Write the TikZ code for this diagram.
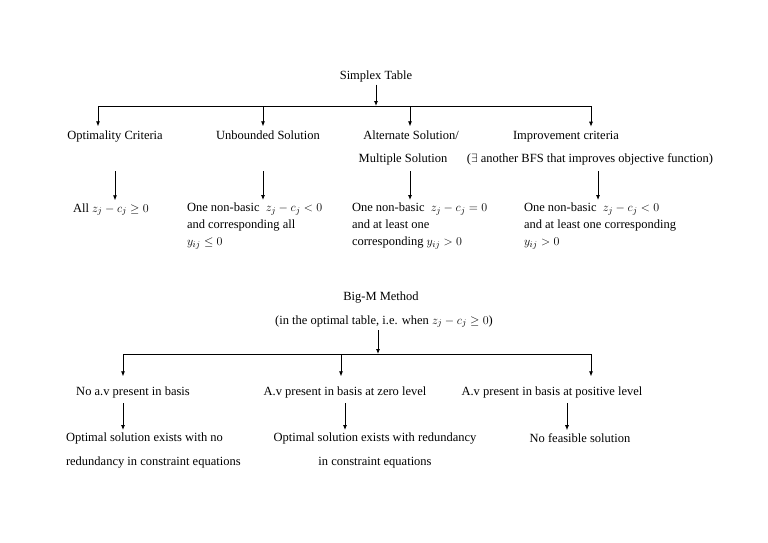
\documentclass[tikz,border=0pt]{standalone}
\usepackage{fontspec}
\setmainfont{Liberation Serif}
\usepackage{tikz}
\usetikzlibrary{arrows.meta,positioning}
\tikzset{
  lbl/.style={inner sep=0pt,outer sep=0pt,anchor=base,font=\fontsize{12.5}{17}\selectfont,text=black},
  cond/.style={lbl,anchor=north west,align=left},
  arrow/.style={-{Latex[length=5pt,width=4pt]},line width=.8pt,draw=black},
  bus/.style={line width=.8pt,draw=black}
}

\begin{document}
\begin{tikzpicture}[x=1pt,y=-1pt]
\useasboundingbox (0,0) rectangle (768,543);
% simplex table
\node[lbl] (st) at (376,79) {Simplex Table};
\coordinate (busL) at (98,106);
\coordinate (busR) at (591,106);
\node[lbl] (opt) at (115,139) {Optimality Criteria};
\node[lbl] (unb) at (268,139) {Unbounded Solution};
\node[lbl] (alt) at (411,139) {Alternate Solution/};
\node[lbl] (mult) at (403,162) {Multiple Solution};
\node[lbl] (imp) at (566,139) {Improvement criteria};
\node[lbl] (bfs) at (590,162) {($\exists$ another BFS that improves objective function)};
\node[lbl,anchor=base west] (allz) at (73,212) {All $z_j-c_j\geq 0$};
\node[cond] (unbc) at (187,203) {One non-basic \ $z_j-c_j<0$\\and corresponding all\\$y_{ij}\leq 0$};
\node[cond] (altc) at (352,203) {One non-basic \ $z_j-c_j=0$\\and at least one\\corresponding $y_{ij}>0$};
\node[cond] (impc) at (524,203) {One non-basic \ $z_j-c_j<0$\\and at least one corresponding\\$y_{ij}>0$};
\coordinate (d1) at (115,171);
\coordinate (d2) at (263,171);
\coordinate (d3) at (410,171);
\coordinate (d4) at (598,171);
\draw[bus] (busL) -- (busR);
\draw[arrow,shorten <=3pt] (st) -- (st|-busL);
\draw[arrow,shorten >=4pt] (busL) -- (busL|-opt.north);
\draw[arrow,shorten >=4pt] (263,106) coordinate (b2) -- (b2|-unb.north);
\draw[arrow,shorten >=4pt] (410,106) coordinate (b3) -- (b3|-alt.north);
\draw[arrow,shorten >=4pt] (busR) -- (busR|-imp.north);
\draw[arrow,shorten >=3pt] (d1) -- (d1|-allz.north);
\draw[arrow,shorten >=3pt] (d2) -- (d2|-unbc.north);
\draw[arrow,shorten >=3pt] (d3) -- (d3|-altc.north);
\draw[arrow,shorten >=3pt] (d4) -- (d4|-impc.north);
% big-M method
\node[lbl] (bigm) at (381,300) {Big-M Method};
\node[lbl] (when) at (384,324) {(in the optimal table, i.e. when $z_j-c_j\geq 0$)};
\coordinate (wb) at (378,330);
\coordinate (bus2L) at (123,354);
\coordinate (bus2R) at (591,354);
\node[lbl] (nav) at (133,395) {No a.v present in basis};
\node[lbl] (zero) at (345,395) {A.v present in basis at zero level};
\node[lbl] (pos) at (552,395) {A.v present in basis at positive level};
\node[lbl,align=left,anchor=north west,font=\fontsize{12.5}{24}\selectfont] (noredund) at (66,433) {Optimal solution exists with no\\redundancy in constraint equations};
\node[lbl,align=center,anchor=north,font=\fontsize{12.5}{24}\selectfont] (redund) at (375,433) {Optimal solution exists with redundancy\\in constraint equations};
\node[lbl] (nofeas) at (580,442) {No feasible solution};
\coordinate (e1) at (123,403);
\coordinate (e2) at (345,403);
\coordinate (e3) at (567,403);
\draw[bus] (bus2L) -- (bus2R);
\draw[arrow] (wb) -- (wb|-bus2L);
\draw[arrow,shorten >=10pt] (bus2L) -- (bus2L|-nav.north);
\draw[arrow,shorten >=10pt] (341,354) coordinate (c2) -- (c2|-zero.north);
\draw[arrow,shorten >=10pt] (bus2R) -- (bus2R|-pos.north);
\draw[arrow,shorten >=3pt] (e1) -- (e1|-noredund.north);
\draw[arrow,shorten >=3pt] (e2) -- (e2|-redund.north);
\draw[arrow,shorten >=3pt] (e3) -- (e3|-nofeas.north);
\end{tikzpicture}
\end{document}
